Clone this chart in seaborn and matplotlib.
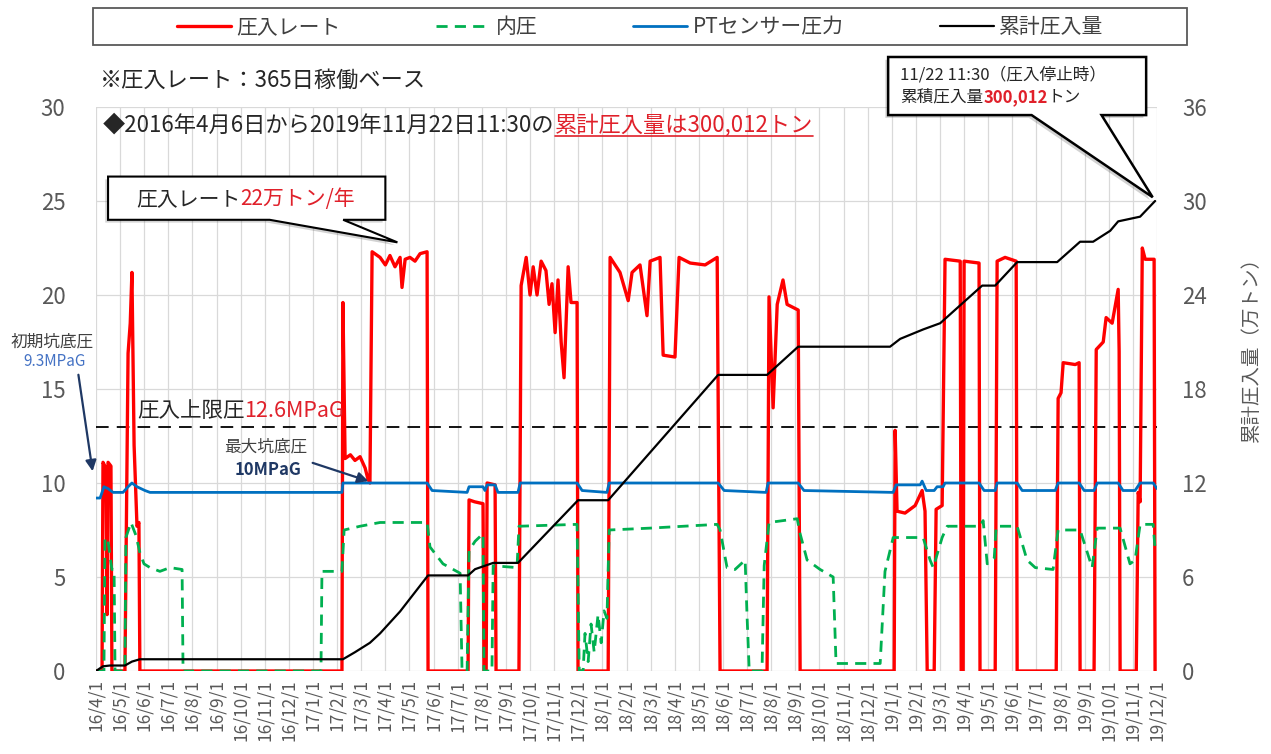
import seaborn as sns
import matplotlib.pyplot as plt
from matplotlib.patches import Polygon, Rectangle
from matplotlib.lines import Line2D
import matplotlib.patheffects as pe

# x = months since 2016/4/1
month_labels = [f"{y}/{m}/1" for y in (16, 17, 18, 19) for m in range(1, 13)][3:]

rate_month = [0, 0.25, 0.29, 0.41, 0.46, 0.50, 0.62, 0.66,
              1.20, 1.29, 1.33, 1.42, 1.49, 1.58, 1.70, 1.78, 1.82,
              10.20, 10.24, 10.33, 10.55, 10.74, 10.95, 11.16, 11.24, 11.28, 11.36, 11.45, 11.78, 12.00,
              12.19, 12.40, 12.61, 12.69, 12.82, 13.02, 13.23, 13.44, 13.73, 13.77,
              15.43, 15.47, 15.70, 16.05, 16.09, 16.18, 16.22, 16.55, 16.59,
              17.54, 17.63, 17.84, 18.00, 18.13, 18.29, 18.46, 18.66, 18.79, 18.91, 19.04, 19.16, 19.29,
              19.41, 19.58, 19.70, 19.95, 19.99,
              21.24, 21.32, 21.73, 22.07, 22.23, 22.56, 22.85, 22.98, 23.39, 23.52, 24.01, 24.18, 24.64,
              25.26, 25.76, 25.88,
              27.83, 27.91, 28.08, 28.25, 28.49, 28.66, 29.12, 29.20,
              33.10, 33.14, 33.22, 33.55, 33.97, 34.26, 34.38, 34.47,
              34.76, 34.84, 35.09, 35.21, 35.84, 35.88, 35.96, 36.00, 36.62, 36.66,
              37.29, 37.37, 37.70, 38.16, 38.20,
              39.82, 39.90, 40.02, 40.11, 40.61, 40.77, 40.81,
              41.39, 41.48, 41.77, 41.89, 42.14, 42.39, 42.43, 42.47,
              43.14, 43.22, 43.30, 43.39, 43.51, 43.88, 43.92]
rate_value = [0, 0, 11.1, 10.8, 3.0, 11.1, 10.9, 0,
              0, 12.0, 16.9, 18.5, 21.2, 12.0, 7.7, 7.9, 0,
              0, 19.6, 11.3, 11.5, 11.2, 11.4, 10.8, 10.4, 10.2, 10.0, 22.3, 22.0, 21.6,
              22.1, 21.5, 22.0, 20.4, 21.9, 22.0, 21.8, 22.2, 22.3, 0,
              0, 9.1, 9.0, 8.9, 0, 0, 10.0, 9.9, 0,
              0, 20.5, 22.0, 20.0, 21.5, 20.0, 21.8, 21.3, 19.5, 20.6, 18.0, 20.8, 17.5,
              15.6, 21.5, 19.6, 19.6, 0,
              0, 22.0, 21.2, 19.7, 21.2, 21.6, 18.9, 21.8, 22.0, 16.8, 16.7, 22.0, 21.7,
              21.6, 22.0, 0,
              0, 19.9, 14.0, 19.5, 20.8, 19.5, 19.2, 0,
              0, 12.8, 8.5, 8.4, 8.8, 9.6, 8.5, 0,
              0, 8.6, 8.8, 21.9, 21.8, 0, 0, 21.8, 21.7, 0,
              0, 21.8, 22.0, 21.8, 0,
              0, 14.5, 14.8, 16.4, 16.3, 16.4, 0,
              0, 17.1, 17.5, 18.8, 18.5, 20.3, 17.0, 0,
              0, 9.5, 9.0, 22.5, 21.9, 21.9, 0]

inner_month = [0, 0.33, 0.37, 0.50, 0.66, 0.75, 0.79, 1.20, 1.24, 1.45, 1.66, 1.82, 1.99, 2.24, 2.65,
               3.07, 3.57, 3.61,
               9.33, 9.37, 10.20, 10.29, 10.95, 11.78, 13.73, 13.85, 14.39, 15.10, 15.18, 15.39, 15.47,
               15.72, 16.05, 16.09, 16.42, 16.47, 17.46, 17.54, 19.95, 20.04,
               20.20, 20.28, 20.41, 20.53, 20.66, 20.82, 20.95, 21.07, 21.19, 21.28, 22.98, 25.76, 25.88,
               26.17, 26.50, 26.92, 27.00, 27.09, 27.62, 27.71, 27.91, 29.08, 29.20, 29.49, 30.03, 30.57,
               30.69, 32.52, 32.72, 33.06, 34.30, 34.59, 34.72, 35.09, 35.30, 36.66, 36.79, 36.96, 37.25,
               37.33, 38.20, 38.61, 38.95, 39.69, 39.90, 40.81, 41.31, 41.52, 42.47, 42.88, 43.09, 43.30,
               43.84, 43.92]
inner_value = [0, 0, 7.1, 6.9, 5.4, 5.4, 0, 0, 7.1, 7.9, 7.2, 6.3, 5.7, 5.5, 5.3,
               5.5, 5.4, 0,
               0, 5.3, 5.3, 7.5, 7.7, 7.9, 7.9, 6.6, 5.7, 5.2, 0, 0, 6.4,
               6.9, 7.3, 0, 0, 5.6, 5.5, 7.7, 7.8, 0,
               0, 2.0, 0.5, 2.5, 1.0, 3.0, 1.5, 3.2, 2.8, 7.5, 7.6, 7.8, 7.5,
               5.5, 5.4, 5.9, 2.9, 0, 0, 5.6, 7.9, 8.1, 7.3, 5.9, 5.4, 5.0,
               0.4, 0.4, 5.3, 7.1, 7.1, 5.9, 5.5, 7.1, 7.7, 7.7, 8.0, 5.7, 6.0,
               7.7, 7.7, 5.9, 5.5, 5.4, 7.5, 7.5, 5.5, 7.6, 7.6, 5.7, 5.9, 7.8,
               7.8, 6.5]

pt_month = [0, 0.17, 0.33, 0.50, 0.71, 1.12, 1.33, 1.49, 1.70, 2.03, 2.24, 10.20, 10.24, 13.73, 13.94,
            15.39, 15.47, 16.05, 16.13, 16.22, 16.55, 16.67, 17.50, 17.59, 19.95, 20.16, 21.19, 21.28,
            25.80, 26.05, 27.79, 27.87, 29.12, 29.36, 33.06, 33.18, 34.18, 34.26, 34.43, 34.76, 34.88,
            35.13, 35.21, 36.62, 36.83, 37.29, 37.37, 38.20, 38.41, 39.78, 39.90, 40.77, 40.98, 41.39,
            41.52, 42.39, 42.59, 43.09, 43.30, 43.84, 44.0]
pt_value = [9.2, 9.2, 9.8, 9.7, 9.5, 9.5, 9.8, 10.0, 9.8, 9.6, 9.5, 9.5, 10.0, 10.0, 9.6,
            9.5, 9.8, 9.8, 9.6, 9.9, 9.9, 9.5, 9.5, 10.0, 10.0, 9.6, 9.5, 10.0,
            10.0, 9.6, 9.5, 10.0, 10.0, 9.6, 9.5, 9.9, 9.9, 10.1, 9.6, 9.6, 9.8,
            9.8, 10.0, 10.0, 9.6, 9.6, 10.0, 10.0, 9.6, 9.6, 10.0, 10.0, 9.6, 9.6,
            10.0, 10.0, 9.6, 9.6, 10.0, 10.0, 9.7]

total_month = [0, 0.29, 0.58, 1.20, 1.49, 1.82, 10.24, 10.74, 11.36, 11.78, 12.61, 13.77, 15.43, 15.72,
               16.47, 17.50, 19.99, 21.24, 25.80, 27.83, 29.12, 32.93, 33.35, 34.30, 35.01, 36.75, 37.29,
               38.20, 39.86, 40.81, 41.35, 42.06, 42.39, 43.30, 43.92]
total_value = [0, 0.3, 0.35, 0.35, 0.6, 0.75, 0.75, 1.2, 1.8, 2.4, 3.8, 6.1, 6.1, 6.5,
               6.9, 6.9, 10.9, 10.9, 18.9, 18.9, 20.7, 20.7, 21.2, 21.8, 22.2, 24.6, 24.6,
               26.1, 26.1, 27.4, 27.4, 28.1, 28.7, 29.0, 30.0]

upper_limit = 13.0

RED = "#ff0000"
TXT_RED = "#e0202a"
GREEN = "#00b050"
BLUE = "#0070c0"
NAVY = "#1f3864"
GREY = "#595959"

sns.set_theme(style="white")
plt.rcParams['font.family'] = ['Noto Sans CJK JP', 'DejaVu Sans']

W, H = 1271, 754


def P(x, y):
    return (x / W, 1 - y / H)


fig = plt.figure(figsize=(W / 100, H / 100), dpi=100)
ax = fig.add_axes([96 / W, 1 - 671 / H, (1157 - 96) / W, (671 - 107) / H])
ax2 = ax.twinx()

sns.lineplot(x=rate_month, y=rate_value, ax=ax, color=RED, lw=2.4, estimator=None, sort=False)
sns.lineplot(x=inner_month, y=inner_value, ax=ax, color=GREEN, lw=2.0, estimator=None, sort=False,
             linestyle=(0, (4, 2.6)))
sns.lineplot(x=pt_month, y=pt_value, ax=ax, color=BLUE, lw=2.0, estimator=None, sort=False)
sns.lineplot(x=total_month, y=total_value, ax=ax2, color="black", lw=1.6, estimator=None, sort=False)
ax.axhline(upper_limit, color="black", lw=1.3, ls=(0, (7, 4.5)), zorder=1)

ax.set_xlim(0, 44)
ax.set_ylim(0, 30)
ax2.set_ylim(0, 36)
ax.set_yticks(range(0, 31, 5))
ax2.set_yticks(range(0, 37, 6))
ax.set_xticks(range(45))
ax.set_xticklabels(month_labels, rotation=90)
ax.grid(True, color="#d9d9d9", lw=0.9)
ax.set_axisbelow(True)
for a in (ax, ax2):
    for s in a.spines.values():
        s.set_visible(False)
    a.set_ylabel("")
ax.tick_params(axis="y", labelsize=16, labelcolor=GREY, pad=22, length=0)
ax2.tick_params(axis="y", labelsize=16, labelcolor=GREY, pad=18, length=0)
ax.tick_params(axis="x", labelsize=12.5, labelcolor=GREY, pad=6, length=0)

fig.text(*P(1251, 345), "累計圧入量（万トン）", rotation=90, ha="center", va="center",
         fontsize=14, color=GREY)

# legend
handles = ax.lines[:3] + ax2.lines[:1]
labels = ["圧入レート", "内圧", "PTセンサー圧力", "累計圧入量"]
fig.legend(handles, labels, loc="center", bbox_to_anchor=P(640, 27), ncol=4, frameon=False,
           fontsize=15, handlelength=2.6, handletextpad=0.25, columnspacing=4.6, labelcolor="#404040")
fig.patches.append(Rectangle(P(93, 45), 1094 / W, 37 / H, transform=fig.transFigure,
                             fill=False, edgecolor=GREY, lw=1.3))


def rich(x, y, parts, size, **kw):
    first = None
    prev = None
    for s, c, w in parts:
        if prev is None:
            t = ax2.annotate(s, xy=P(x, y), xycoords="figure fraction", va="center", ha="left",
                             fontsize=size, color=c, fontweight=w, annotation_clip=False, zorder=10)
            first = t
        else:
            t = ax2.annotate(s, xy=(1, 0.5), xycoords=prev, va="center", ha="left",
                             fontsize=size, color=c, fontweight=w, annotation_clip=False, zorder=10)
        prev = t
    return first, prev


rich(100, 80, [("※圧入レート：365日稼働ベース", "#262626", "normal")], 16)
_, red_part = rich(103, 125, [("◆2016年4月6日から2019年11月22日11:30の", "#262626", "normal"),
                              ("累計圧入量は300,012トン", TXT_RED, "normal")], 16)


def callout(box, tail, lw):
    (x0, x1, y0, y1) = box
    (b0, b1, tx, ty) = tail
    pts = [(x0, y1), (x1, y1), (x1, y0), (b1, y0), (tx, ty), (b0, y0), (x0, y0)]
    poly = Polygon(pts, closed=True, facecolor="white", edgecolor="black", lw=lw,
                   transform=ax.transData, clip_on=False, zorder=5,
                   path_effects=[pe.SimplePatchShadow(offset=(-2, -2), alpha=0.25), pe.Normal()])
    ax2.add_patch(poly)


callout((0.5, 12.0, 24.0, 26.3), (7.2, 10.25, 12.5, 22.8), 1.5)
rich(136, 199, [("圧入レート", "#262626", "normal"), ("22万トン/年", TXT_RED, "normal")], 15)

callout((32.85, 43.55, 29.57, 32.66), (38.8, 41.7, 43.82, 25.2), 1.8)
rich(900, 75, [("11/22 11:30（圧入停止時）", "#262626", "normal")], 12)
rich(900, 97, [("累積圧入量", "#262626", "normal"), ("300,012", TXT_RED, "bold"),
               ("トン", "#262626", "normal")], 12)

# left-side notes
fig.text(*P(52, 342), "初期坑底圧", ha="center", va="center", fontsize=12, color="#404040")
fig.text(*P(55, 361), "9.3MPaG", ha="center", va="center", fontsize=11, color="#4472c4")
ax2.annotate("", xy=P(93, 474), xycoords="figure fraction", xytext=P(78, 372),
             textcoords="figure fraction", annotation_clip=False,
             arrowprops=dict(arrowstyle="-|>", color=NAVY, lw=1.6, mutation_scale=16))

rich(137, 411, [("圧入上限圧", "#262626", "normal"), ("12.6MPaG", TXT_RED, "normal")], 15.5)

fig.text(*P(266, 447), "最大坑底圧", ha="center", va="center", fontsize=12, color="#404040")
fig.text(*P(268, 470), "10MPaG", ha="center", va="center", fontsize=12, color=NAVY, fontweight="bold")
ax2.annotate("", xy=P(371, 482), xycoords="figure fraction", xytext=P(310, 462),
             textcoords="figure fraction", annotation_clip=False,
             arrowprops=dict(arrowstyle="-|>", color=NAVY, lw=1.6, mutation_scale=16))

# underline of the red part
fig.canvas.draw()
bb = red_part.get_window_extent()
inv = fig.transFigure.inverted()
(ux0, uy), (ux1, _) = inv.transform([(bb.x0, bb.y0 + 1), (bb.x1, bb.y0 + 1)])
fig.add_artist(Line2D([ux0, ux1], [uy, uy], transform=fig.transFigure, color=TXT_RED, lw=1.2))

fig.savefig("out.png", dpi=100)
